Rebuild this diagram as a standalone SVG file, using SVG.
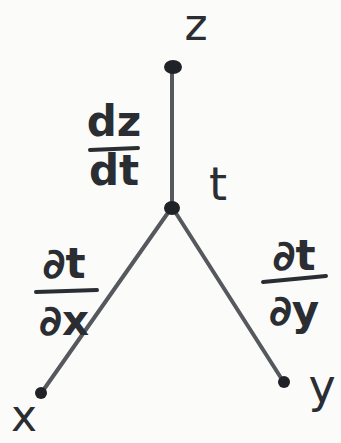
<svg xmlns="http://www.w3.org/2000/svg" width="341" height="443" viewBox="0 0 341 443">
<style>
.lbl{font-family:"DejaVu Sans",sans-serif;fill:#2a2d32;}
.frac{font-family:"DejaVu Sans",sans-serif;fill:#2a2d32;font-size:42px;font-weight:bold;}
.edge{stroke:#55585c;stroke-width:4;stroke-linecap:round;fill:none;}
.bar{stroke:#2a2d32;stroke-width:4;stroke-linecap:round;}
.dot{fill:#1f2226;}
</style>
<rect width="341" height="443" fill="#fbfbfa"/>
<g id="connectors">
<line class="edge" x1="172" y1="68" x2="172" y2="207"/>
<line class="edge" x1="172" y1="207" x2="42" y2="392"/>
<line class="edge" x1="172" y1="207" x2="283" y2="381"/>
</g>
<g id="node-z">
<ellipse class="dot" cx="173" cy="67" rx="9" ry="7"/>
<text class="lbl" x="196" y="40" font-size="44" text-anchor="middle">z</text>
</g>
<g id="node-t">
<ellipse class="dot" cx="172" cy="208" rx="8" ry="7"/>
<text class="lbl" x="218" y="200" font-size="46" text-anchor="middle">t</text>
</g>
<g id="node-x">
<circle class="dot" cx="41" cy="393" r="6"/>
<text class="lbl" x="24" y="431" font-size="44" text-anchor="middle">x</text>
</g>
<g id="node-y">
<circle class="dot" cx="284" cy="382" r="6"/>
<text class="lbl" x="322" y="402" font-size="46" text-anchor="middle">y</text>
</g>
<g id="label-dzdt">
<text class="frac" x="114" y="136" text-anchor="middle">dz</text>
<line class="bar" x1="90" y1="150" x2="138" y2="148"/>
<text class="frac" x="114" y="185" text-anchor="middle">dt</text>
</g>
<g id="label-dtdx">
<text class="frac" x="64" y="278" text-anchor="middle">∂t</text>
<line class="bar" x1="36" y1="292" x2="97" y2="290"/>
<text class="frac" x="64" y="335" text-anchor="middle">∂x</text>
</g>
<g id="label-dtdy">
<text class="frac" x="294" y="270" text-anchor="middle">∂t</text>
<line class="bar" x1="263" y1="282" x2="326" y2="276"/>
<text class="frac" x="294" y="325" text-anchor="middle">∂y</text>
</g>
</svg>
